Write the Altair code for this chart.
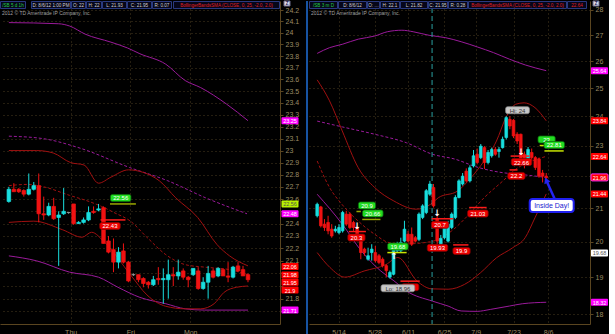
import altair as alt
import pandas as pd

FONT = "Liberation Sans"
NARROW = "Liberation Sans Narrow, Liberation Sans"

# ======================= DATA =======================
# ---- Left panel: /SB hourly candles ----
left_open = [22.58, 22.68, 22.68, 22.67, 22.64, 22.68, 22.71, 22.48, 22.47, 22.54,
             22.45, 22.48, 22.49, 22.56, 22.40, 22.41, 22.43, 22.50, 22.51, 22.53,
             22.26, 22.19, 22.09, 22.18, 22.09, 21.99, 21.99, 21.96, 21.93, 21.91,
             21.96, 21.95, 21.95, 21.99, 21.98, 22.02, 21.97, 21.99, 22.02, 21.88,
             21.93, 22.02, 21.98, 22.03, 21.98, 21.97, 22.06, 22.03, 21.99]
left_high = [22.70, 22.73, 22.69, 22.68, 22.81, 22.74, 22.81, 22.62, 22.57, 22.61,
             22.50, 22.69, 22.49, 22.56, 22.42, 22.45, 22.54, 22.54, 22.56, 22.54,
             22.30, 22.28, 22.21, 22.24, 22.10, 22.00, 21.99, 21.97, 21.94, 21.98,
             22.05, 22.04, 22.11, 22.05, 22.11, 22.04, 21.98, 22.04, 22.05, 21.97,
             22.06, 22.04, 22.05, 22.04, 22.09, 22.06, 22.09, 22.06, 22.00]
left_low = [22.57, 22.66, 22.65, 22.62, 22.63, 22.67, 22.41, 22.43, 22.46, 22.43,
            22.06, 22.47, 22.48, 22.39, 22.40, 22.40, 22.42, 22.48, 22.50, 22.24,
            22.16, 22.01, 22.04, 22.08, 21.93, 21.98, 21.93, 21.89, 21.88, 21.90,
            21.91, 21.76, 21.80, 21.90, 21.95, 21.95, 21.89, 21.98, 21.87, 21.87,
            21.80, 21.96, 21.97, 21.98, 21.93, 21.96, 22.01, 21.98, 21.93]
left_close = [22.68, 22.66, 22.66, 22.64, 22.68, 22.71, 22.48, 22.47, 22.54, 22.44,
              22.47, 22.50, 22.49, 22.40, 22.41, 22.43, 22.49, 22.49, 22.52, 22.24,
              22.17, 22.09, 22.17, 22.09, 21.94, 21.99, 21.95, 21.92, 21.91, 21.95,
              21.95, 21.96, 21.99, 21.98, 22.01, 21.97, 21.95, 22.04, 21.88, 21.93,
              22.00, 21.97, 22.04, 21.98, 21.97, 22.05, 22.02, 21.98, 21.95]

left_bb_up_i = [0, 5.6, 8.9, 12.4, 15.1, 18.0, 20.5, 24.0, 26.9, 30.2, 33.5, 37.9, 41.8, 44.3, 48]
left_bb_up_v = [23.00, 23.00, 22.98, 22.90, 22.88, 22.73, 22.78, 22.84, 22.82, 22.75, 22.61, 22.45, 22.23, 22.14, 22.06]
left_bb_mid_i = [0, 3.7, 7.0, 12.2, 16.1, 18.6, 21.1, 24.4, 27.7, 31.5, 35.4, 39.3, 44.3, 48]
left_bb_mid_v = [22.71, 22.72, 22.70, 22.63, 22.58, 22.54, 22.49, 22.42, 22.29, 22.15, 22.07, 22.05, 22.03, 21.99]
left_bb_lo_i = [0, 5.0, 10.8, 14.7, 16.6, 19.2, 24.4, 27.7, 31.5, 35.4, 38.5, 41.2, 43.2, 45.7, 48]
left_bb_lo_v = [22.41, 22.42, 22.35, 22.29, 22.33, 22.25, 21.99, 21.83, 21.74, 21.72, 21.72, 21.76, 21.85, 21.89, 21.90]
left_env_up_i = [0, 10, 12.2, 15.3, 20.5, 23.8, 26.3, 31.5, 35.4, 38.5, 43.7, 48]
left_env_up_v = [24.09, 24.08, 24.06, 23.99, 23.92, 23.87, 23.82, 23.73, 23.59, 23.53, 23.39, 23.25]
left_env_mid_i = [0, 6.8, 14.3, 24.2, 31.9, 39.5, 47.8]
left_env_mid_v = [23.12, 23.10, 23.02, 22.86, 22.75, 22.61, 22.48]
left_env_lo_i = [0, 5.6, 12.2, 18.0, 21.9, 26.3, 31.5, 35.4, 39.3, 48]
left_env_lo_v = [22.14, 22.10, 22.01, 21.97, 21.89, 21.81, 21.76, 21.72, 21.71, 21.71]

left_ticks = [21.7, 21.8, 21.9, 22.0, 22.1, 22.2, 22.3, 22.4, 22.5, 22.6, 22.7, 22.8, 22.9,
              23.0, 23.1, 23.2, 23.3, 23.4, 23.5, 23.6, 23.7, 23.8, 23.9, 24.0, 24.1, 24.2]
left_ticks_hidden = [21.7, 21.9, 22.0, 22.5]   # covered by the price tags in the reference
left_days = ["Thu", "Fri", "Mon"]
left_day_pos = [12.4, 24.4, 36.4]

left_axis_tag_text = ["23.25", "22.56", "22.48", "22.06", "21.98", "21.95", "21.9", "21.71"]
left_axis_tag_val = [23.25, 22.56, 22.48, 22.06, 21.98, 21.95, 21.90, 21.71]
left_axis_tag_kind = ["mag", "lime", "mag", "red", "red", "red", "red", "mag"]
left_axis_tag_nudge = [0, 0, 0, 0.5, -1, 2.5, 4, 0]   # stacking of crowded tags (px)

left_sig_from = [20.3, 18.4]
left_sig_to = [25.5, 23.4]
left_sig_val = [22.56, 22.43]
left_sig_kind = ["olive", "red"]

left_tag_text = ["22.56", "22.43"]
left_tag_i = [22.45, 20.3]
left_tag_v = [22.56, 22.43]
left_tag_kind = ["green", "red"]
left_tag_side = [-1, 1]

left_header = ["/SB 5 d 1h", "D: 8/6/12 1:00 PM", "O: 22", "H: 22", "L: 21.93",
               "C: 21.95", "R: 0.07", "BollingerBandsSMA (CLOSE, 0, 25, -2.0, 2.0)"]

# ---- Right panel: /SB daily candles (3 months) ----
right_open = [20.77, 21.04, 20.52, 20.57, 20.37, 20.32, 20.27, 20.32, 20.82, 20.82,
              20.57, 20.42, 20.07, 19.79, 19.50, 19.69, 19.69, 19.60, 19.50, 19.32,
              19.00, 19.08, 19.74, 19.74, 20.02, 20.22, 20.22, 20.12, 20.07, 20.72,
              20.87, 21.43, 21.64, 20.67, 19.90, 20.12, 20.02, 20.42, 20.72, 21.33,
              21.75, 22.16, 21.85, 22.33, 22.71, 22.60, 22.93, 22.44, 22.66, 22.87,
              22.80, 22.93, 23.27, 23.89, 23.86, 23.38, 23.38, 22.71, 22.55, 22.77,
              22.60, 22.55, 22.10, 22.00]
right_high = [21.17, 21.07, 20.67, 20.77, 20.52, 20.47, 20.52, 20.92, 20.92, 20.87,
              20.62, 20.47, 20.17, 19.83, 19.83, 19.93, 19.88, 19.65, 19.55, 19.36,
              19.18, 19.88, 20.00, 20.12, 20.62, 20.32, 20.42, 20.17, 20.87, 21.12,
              21.59, 21.85, 21.75, 20.80, 20.20, 20.52, 20.62, 20.87, 21.40, 21.90,
              22.10, 22.25, 22.35, 22.85, 22.90, 23.05, 22.98, 22.85, 22.93, 22.95,
              22.95, 23.30, 24.00, 24.00, 23.90, 23.45, 23.40, 22.80, 22.95, 22.90,
              22.65, 22.60, 22.20, 22.10]
right_low = [20.72, 20.42, 20.32, 20.22, 20.12, 20.27, 20.22, 20.27, 20.47, 20.37,
             20.32, 20.02, 19.50, 19.60, 19.46, 19.46, 19.41, 19.36, 19.27, 19.00,
             18.96, 19.05, 19.70, 19.69, 19.98, 19.98, 19.88, 19.98, 20.02, 20.67,
             20.82, 21.38, 21.02, 19.74, 19.85, 20.07, 19.98, 20.37, 20.67, 21.30,
             21.70, 21.80, 21.80, 22.28, 22.38, 22.55, 22.23, 22.38, 22.60, 22.66,
             22.60, 22.90, 23.20, 23.55, 23.25, 23.05, 22.50, 22.25, 22.45, 22.50,
             22.20, 21.95, 21.80, 21.82]
right_close = [21.12, 20.47, 20.42, 20.32, 20.17, 20.37, 20.42, 20.87, 20.52, 20.42,
               20.42, 20.12, 19.69, 19.69, 19.60, 19.79, 19.46, 19.41, 19.32, 19.18,
               19.13, 19.83, 19.93, 19.98, 20.37, 20.02, 19.93, 20.02, 20.82, 21.07,
               21.54, 21.75, 21.07, 20.02, 20.10, 20.42, 20.52, 20.82, 21.33, 21.85,
               22.00, 21.85, 22.27, 22.66, 22.44, 22.98, 22.44, 22.77, 22.87, 22.71,
               22.87, 23.21, 23.95, 23.66, 23.32, 23.15, 22.55, 22.50, 22.87, 22.60,
               22.28, 22.00, 22.00, 21.95]

right_bb_up_i = [0, 3.4, 6.9, 11.3, 15.8, 21.1, 27.2, 31.2, 33.3, 38.6, 42.3, 45.9, 49.3, 51.9, 54.6, 56.9, 59.9, 63]
right_bb_up_v = [25.30, 24.54, 23.49, 22.27, 21.64, 21.22, 20.97, 21.12, 21.32, 21.53, 21.95, 22.49, 23.15, 23.95, 24.42, 24.47, 24.30, 23.84]
right_bb_mid_i = [0, 3.4, 6.8, 11.3, 15.8, 20.1, 24.6, 29.0, 33.3, 37.0, 41.3, 45.9, 51.1, 54.6, 59.1, 63]
right_bb_mid_v = [22.49, 21.64, 21.12, 20.61, 20.22, 19.97, 19.94, 19.97, 20.07, 20.32, 20.76, 21.32, 21.85, 22.22, 22.49, 22.64]
right_bb_lo_i = [0, 3.5, 7.6, 12.9, 18.9, 22.2, 27.4, 31.5, 36.0, 40.5, 44.9, 49.3, 53.8, 57.2, 59.9, 63]
right_bb_lo_v = [19.69, 19.27, 19.00, 19.17, 19.35, 19.55, 18.90, 18.68, 18.67, 18.80, 19.12, 19.54, 19.83, 20.12, 20.71, 21.44]
right_env_up_i = [0, 3.4, 6.9, 11.3, 15.8, 19.3, 23.3, 26.4, 30.8, 35.2, 39.6, 44.0, 48.5, 52.9, 57.3, 63]
right_env_up_v = [26.29, 26.51, 26.64, 26.84, 26.96, 27.13, 27.19, 27.13, 26.99, 26.90, 26.74, 26.54, 26.32, 26.07, 25.85, 25.64]
right_env_mid_i = [0, 6.9, 15.8, 24.6, 31.7, 37.9, 44.0, 51.1, 55.5, 63]
right_env_mid_v = [23.83, 23.63, 23.38, 23.09, 22.71, 22.55, 22.29, 22.11, 22.06, 21.96]
right_env_lo_i = [0, 6.9, 12.2, 17.5, 21.1, 24.6, 31.7, 36.0, 39.6, 44.0, 47.6, 52.9, 56.4, 63]
right_env_lo_v = [21.43, 20.52, 19.73, 19.17, 18.90, 18.62, 18.35, 18.22, 18.09, 18.08, 18.13, 18.22, 18.28, 18.32]

right_ticks = [18, 19, 20, 21, 22, 23, 24, 25, 26, 27, 28]
right_ticks_hidden = [22]
right_dates = ["5/14", "5/28", "6/11", "6/25", "7/9", "7/23", "8/6"]
right_date_pos = [5.9, 15.8, 25.0, 34.9, 43.6, 54.0, 63.5]
right_marker_pos = 31.6

right_axis_tag_text = ["25.64", "23.84", "22.64", "21.96", "21.44", "19.68", "18.32"]
right_axis_tag_val = [25.64, 23.84, 22.64, 21.96, 21.44, 19.68, 18.32]
right_axis_tag_kind = ["mag", "red", "red", "redmag", "red", "white", "mag"]

right_sig_from = [10.8, 12.4, 8.7, 19.3, 22.9, 31.5, 37.4, 41.8, 53.2, 52.9, 61.2, 62.5]
right_sig_to = [12.0, 17.4, 13.4, 24.6, 28.2, 37.4, 41.6, 46.6, 58.3, 55.1, 62.5, 67.8]
right_sig_val = [20.90, 20.66, 20.30, 19.69, 18.89, 20.68, 19.91, 21.02, 22.65, 22.20, 23.00, 22.82]
right_sig_kind = ["olive", "olive", "red", "lime", "red", "red", "red", "red", "red", "red", "lime", "lime"]

right_tag_text = ["20.9", "20.66", "20.3", "19.68", "", "Lo: 18.96", "20.7", "19.93",
                  "19.9", "21.03", "Hi: 24", "22.66", "22.2", "23", "22.81"]
right_tag_i = [13.7, 15.3, 10.8, 22.2, 25.6, 22.2, 33.8, 33.1, 39.7, 44.2, 55.1, 56.2, 54.8, 63.1, 65.2]
right_tag_v = [20.90, 20.66, 20.30, 19.69, 18.89, 18.96, 20.68, 19.93, 19.91, 21.02, 24.00, 22.65, 22.20, 23.00, 22.82]
right_tag_kind = ["green", "green", "red", "green", "red", "gray", "red", "red",
                  "red", "red", "gray", "red", "red", "green", "green"]
right_tag_side = [-1, -1, 1, -1, 1, 1.6, 1, 0.6, 1, 1, -1, 1, 1, -1, -1]

right_arrow_i = [11.0, 21.1, 33.0, 56.1]
right_arrow_v = [20.47, 19.59, 20.85, 22.80]
right_arrow_sym = ["↓", "↑", "↓", "↓"]

inside_text = "Inside Day!"
inside_i, inside_v = 64.5, 21.08
inside_arrow = {"i0": 65.3, "v0": 21.29, "i1": 63.0, "v1": 21.87}

right_header = ["/SB 3 m D", "D: 8/6/12", "O: 22", "H: 22.1", "L: 21.82", "C: 21.95",
                "R: 0.28", "BollingerBandsSMA (CLOSE, 0, 25, -2.0, 2.0)", "22.64"]

# ======================= STYLE / LAYOUT =======================
UP, DOWN, FLAT = "#19dede", "#f01212", "#9a9a9a"
BB_RED = "#a01010"
PURPLE = "#9a1a9a"
GRID = "#4a3c20"
AXIS_TXT = "#9c8b64"
AXIS_LINE = "#5a4520"
SIG = {"red": "#ff1a1a", "olive": "#9aa800", "lime": "#c8e400"}
TAG = {"green": ("#22dd22", "#ffffff", "#0a6a0a"), "red": ("#ee0000", "#ffffff", "#880000"),
       "gray": ("#c8c8c8", "#333333", "#888888")}
AXTAG = {"mag": ("#ff00ff", "#ffffff", None), "lime": ("#b8f000", "#505050", None),
         "red": ("#ff0000", "#ffffff", None), "redmag": ("#ff0000", "#ffffff", "#ff33ff"),
         "white": ("#ffffff", "#555555", None)}

LW, RW, H = 280, 281, 323
left_x = alt.Scale(domain=[-0.774, 53.42], nice=False, zero=False)
left_y = alt.Scale(type="log", domain=[21.601, 24.279], nice=False)
right_x = alt.Scale(domain=[-0.875, 73.66], nice=False, zero=False)
right_y = alt.Scale(type="log", domain=[17.751, 28.368], nice=False)

left_header_box = [(0, 26), (31, 71), (71, 86), (86, 102), (102, 127), (127, 152), (152, 172), (173, 280)]
right_header_box = [(0, 29), (29, 58), (58, 71), (71, 91), (91, 119), (119, 139), (139, 159), (159, 258), (258, 278)]


def yaxis(values, hidden, fmt):
    expr = "indexof(%s, datum.value) >= 0 ? '' : format(datum.value, '%s')" % (str(hidden), fmt)
    return alt.Axis(orient="right", values=values, labelExpr=expr, title=None, labelFont=FONT,
                    labelFontSize=7, labelColor=AXIS_TXT, tickColor=AXIS_LINE, tickSize=3,
                    domainColor=AXIS_LINE, labelPadding=2, labelOverlap=False, grid=True,
                    gridColor=GRID, gridDash=[1, 3], gridWidth=1, zindex=0)


def xaxis(values, names):
    expr = "%s[indexof(%s, datum.value)]" % (str(names), str(values))
    return alt.Axis(values=values, labelExpr=expr, title=None, labelFont=FONT, labelFontSize=7,
                    labelColor=AXIS_TXT, tickSize=0, domainColor=AXIS_LINE, labelPadding=4,
                    labelOverlap=False, grid=True, gridColor=GRID, gridDash=[1, 3], zindex=0)


LEFT_AX = (xaxis(left_day_pos, left_days), yaxis(left_ticks, left_ticks_hidden, ".1~f"))
RIGHT_AX = (xaxis(right_date_pos, right_dates), yaxis(right_ticks, right_ticks_hidden, "d"))


def X(field, xs, ax):
    return alt.X(field, scale=xs, axis=ax[0])


def Y(field, ys, ax):
    return alt.Y(field, scale=ys, axis=ax[1])


def band(ii, vv, color, xs, ys, ax, dash=None, width=1.0):
    df = pd.DataFrame({"i": ii, "v": vv})
    kw = dict(color=color, strokeWidth=width, interpolate="monotone")
    if dash:
        kw["strokeDash"] = dash
    return alt.Chart(df).mark_line(**kw).encode(x=X("i:Q", xs, ax), y=Y("v:Q", ys, ax))


def candles(o, h, l, c, xs, ys, ax, body):
    df = pd.DataFrame({"i": list(range(len(o))), "o": o, "h": h, "l": l, "c": c})
    df["d"] = ["up" if cc > oo else ("down" if cc < oo else "flat") for oo, cc in zip(o, c)]
    cs = alt.Scale(domain=["up", "down", "flat"], range=[UP, DOWN, FLAT])
    base = alt.Chart(df)
    wick = base.mark_rule(strokeWidth=1).encode(
        x=X("i:Q", xs, ax), y=Y("l:Q", ys, ax), y2=alt.Y2("h"),
        color=alt.Color("d:N", scale=cs, legend=None))
    bod = base.mark_bar(size=body, strokeWidth=0.7).encode(
        x=X("i:Q", xs, ax), y=Y("o:Q", ys, ax), y2=alt.Y2("c"),
        color=alt.Color("d:N", scale=cs, legend=None), stroke=alt.Stroke("d:N", scale=cs, legend=None))
    return [wick, bod]


def signal(i0, i1, v, kind, xs, ys, ax):
    d = alt.Data(values=[{"i": i0, "b": i1, "v": v}])
    return alt.Chart(d).mark_rule(color=SIG[kind], strokeWidth=1.5).encode(
        x=X("i:Q", xs, ax), x2=alt.X2("b"), y=Y("v:Q", ys, ax))


def tag(text, i, v, kind, side, xs, ys, ax, h=7, size=6):
    fill, color, stroke = TAG[kind]
    w = 3.3 * max(len(text), 4) + 4
    dy = 6 * side
    d = alt.Data(values=[{"i": i, "v": v, "t": text}])
    r = alt.Chart(d).mark_rect(fill=fill, stroke=stroke, strokeWidth=0.8, cornerRadius=2,
                               xOffset=-w / 2, x2Offset=w / 2, yOffset=dy - h / 2, y2Offset=dy + h / 2).encode(
        x=X("i:Q", xs, ax), x2=alt.X2("i"), y=Y("v:Q", ys, ax), y2=alt.Y2("v"))
    if not text:
        return [r]
    t = alt.Chart(d).mark_text(font=FONT, fontSize=size, color=color, dy=dy + 0.5, align="center",
                               baseline="middle").encode(
        x=X("i:Q", xs, ax), y=Y("v:Q", ys, ax), text="t:N")
    return [r, t]


def axis_tag(text, v, kind, x0, x1, ys, ax, nudge=0, h=7):
    fill, color, stroke = AXTAG[kind]
    d = alt.Data(values=[{"v": v, "t": text}])
    kw = dict(fill=fill, yOffset=nudge - h / 2, y2Offset=nudge + h / 2, cornerRadius=1)
    if stroke:
        kw.update(stroke=stroke, strokeWidth=1)
    r = alt.Chart(d).mark_rect(**kw).encode(
        x=alt.value(x0), x2=alt.value(x1), y=Y("v:Q", ys, ax), y2=alt.Y2("v"))
    t = alt.Chart(d).mark_text(font=FONT, fontSize=5.5, color=color, align="center", baseline="middle",
                               dy=nudge + 0.5).encode(
        x=alt.value((x0 + x1) / 2), y=Y("v:Q", ys, ax), text="t:N")
    return [r, t]


def pixel_box(text, x0, x1, y0, y1, fill, stroke, color, size, weight="normal", font=FONT):
    d = alt.Data(values=[{"t": text}])
    kw = dict(fill=fill)
    if stroke:
        kw.update(stroke=stroke, strokeWidth=1)
    r = alt.Chart(d).mark_rect(**kw).encode(
        x=alt.value(x0), x2=alt.value(x1), y=alt.value(y0), y2=alt.value(y1))
    t = alt.Chart(d).mark_text(font=font, fontSize=size, color=color, align="center", baseline="middle",
                               fontWeight=weight, limit=max(x1 - x0 - 1, 4)).encode(
        text="t:N", x=alt.value((x0 + x1) / 2), y=alt.value((y0 + y1) / 2 + 0.5))
    return [r, t]


def header(texts, boxes, width, first_color, bb_color):
    layers = []
    d0 = alt.Data(values=[{"t": ""}])
    layers.append(alt.Chart(d0).mark_rect(fill="#000000").encode(
        x=alt.value(0), x2=alt.value(width), y=alt.value(0), y2=alt.value(7.5)))
    for k, (txt, (a, b)) in enumerate(zip(texts, boxes)):
        color = "#cfcfcf"
        if k == 0:
            color = first_color
        elif txt.startswith("Bollinger") or (k == len(texts) - 1 and txt[0].isdigit()):
            color = bb_color
        layers += pixel_box(txt, a + 0.5, b - 0.5, 0.5, 7.5, "#06061a", "#2a3a80", color, 4.6,
                            font=NARROW)
    return layers


def copyright_text():
    d = alt.Data(values=[{"t": "2012 © TD Ameritrade IP Company, Inc."}])
    return alt.Chart(d).mark_text(font=FONT, fontSize=5, color="#a0a0a0", align="left",
                                  baseline="middle").encode(text="t:N", x=alt.value(2), y=alt.value(12))


# ======================= LEFT PANEL =======================
ax = LEFT_AX
L = []
L.append(band(left_env_up_i, left_env_up_v, PURPLE, left_x, left_y, ax))
L.append(band(left_env_mid_i, left_env_mid_v, PURPLE, left_x, left_y, ax, dash=[3, 2]))
L.append(band(left_env_lo_i, left_env_lo_v, PURPLE, left_x, left_y, ax))
L.append(band(left_bb_up_i, left_bb_up_v, BB_RED, left_x, left_y, ax))
L.append(band(left_bb_mid_i, left_bb_mid_v, BB_RED, left_x, left_y, ax, dash=[3, 2]))
L.append(band(left_bb_lo_i, left_bb_lo_v, BB_RED, left_x, left_y, ax))
L += candles(left_open, left_high, left_low, left_close, left_x, left_y, ax, 3.6)
for a, b, v, k in zip(left_sig_from, left_sig_to, left_sig_val, left_sig_kind):
    L.append(signal(a, b, v, k, left_x, left_y, ax))
for t, i, v, k, s in zip(left_tag_text, left_tag_i, left_tag_v, left_tag_kind, left_tag_side):
    L += tag(t, i, v, k, s, left_x, left_y, ax)
for t, v, k, n in zip(left_axis_tag_text, left_axis_tag_val, left_axis_tag_kind, left_axis_tag_nudge):
    L += axis_tag(t, v, k, 281.5, 298.5, left_y, ax, nudge=n)
L += header(left_header, left_header_box, LW, "#22cc44", "#e02020")
L += pixel_box("Z", 284, 290, 0, 5, "#d8d8e8", "#6a6a8a", "#202050", 4.5, "bold")
L.append(copyright_text())
left_chart = alt.layer(*L).properties(width=LW, height=H)

# ======================= RIGHT PANEL =======================
ax = RIGHT_AX
R = []
R.append(band(right_env_up_i, right_env_up_v, PURPLE, right_x, right_y, ax))
R.append(band(right_env_mid_i, right_env_mid_v, PURPLE, right_x, right_y, ax, dash=[3, 2]))
R.append(band(right_env_lo_i, right_env_lo_v, PURPLE, right_x, right_y, ax))
R.append(band(right_bb_up_i, right_bb_up_v, BB_RED, right_x, right_y, ax))
R.append(band(right_bb_mid_i, right_bb_mid_v, BB_RED, right_x, right_y, ax, dash=[3, 2]))
R.append(band(right_bb_lo_i, right_bb_lo_v, BB_RED, right_x, right_y, ax))
R.append(alt.Chart(alt.Data(values=[{"i": right_marker_pos}])).mark_rule(
    color="#2aa0a0", strokeWidth=1, strokeDash=[5, 3]).encode(
    x=X("i:Q", right_x, ax), y=alt.value(7), y2=alt.value(H)))
R += candles(right_open, right_high, right_low, right_close, right_x, right_y, ax, 2.7)
for a, b, v, k in zip(right_sig_from, right_sig_to, right_sig_val, right_sig_kind):
    R.append(signal(a, b, v, k, right_x, right_y, ax))
for t, i, v, k, s in zip(right_tag_text, right_tag_i, right_tag_v, right_tag_kind, right_tag_side):
    R += tag(t, i, v, k, s, right_x, right_y, ax)
arrows = pd.DataFrame({"i": right_arrow_i, "v": right_arrow_v, "s": right_arrow_sym})
R.append(alt.Chart(arrows).mark_text(font="DejaVu Sans", fontSize=9, fontWeight="bold", color="#ffffff",
                                     baseline="middle").encode(
    x=X("i:Q", right_x, ax), y=Y("v:Q", right_y, ax), text="s:N"))
# Inside day annotation
ad = alt.Data(values=[{"i": inside_arrow["i0"], "b": inside_arrow["i1"],
                       "v": inside_arrow["v0"], "w": inside_arrow["v1"]}])
R.append(alt.Chart(ad).mark_rule(color="#2424ee", strokeWidth=2.5).encode(
    x=X("i:Q", right_x, ax), x2=alt.X2("b"), y=Y("v:Q", right_y, ax), y2=alt.Y2("w")))
R.append(alt.Chart(ad).mark_point(shape="triangle-up", filled=True, color="#2424ee", size=45,
                                  angle=336, opacity=1).encode(
    x=X("b:Q", right_x, ax), y=Y("w:Q", right_y, ax)))
idd = alt.Data(values=[{"i": inside_i, "v": inside_v, "t": inside_text}])
R.append(alt.Chart(idd).mark_rect(fill="#ffffff", stroke="#2020f0", strokeWidth=2, cornerRadius=3,
                                  xOffset=-22, x2Offset=22, yOffset=-6.5, y2Offset=6.5).encode(
    x=X("i:Q", right_x, ax), x2=alt.X2("i"), y=Y("v:Q", right_y, ax), y2=alt.Y2("v")))
R.append(alt.Chart(idd).mark_text(font=FONT, fontSize=7, color="#2020d0", align="center",
                                  baseline="middle", dy=0.5).encode(
    x=X("i:Q", right_x, ax), y=Y("v:Q", right_y, ax), text="t:N"))
for t, v, k in zip(right_axis_tag_text, right_axis_tag_val, right_axis_tag_kind):
    R += axis_tag(t, v, k, 282, 299, right_y, ax)
R += header(right_header, right_header_box, RW, "#22cc44", "#e02020")
R += pixel_box("Z", 284, 290, 0, 5, "#d8d8e8", "#6a6a8a", "#202050", 4.5, "bold")
R.append(copyright_text())
R.append(alt.Chart(alt.Data(values=[{"a": 0}])).mark_rule(color="#1f6fd8", strokeWidth=1.5).encode(
    x=alt.value(-2), y=alt.value(0), y2=alt.value(334)))
right_chart = alt.layer(*R).properties(width=RW, height=H)

chart = alt.hconcat(left_chart, right_chart, spacing=29, bounds="flush").configure(
    background="#000000", padding=0
).configure_view(stroke=None)

chart.save("out.html", embed_options={"renderer": "svg", "actions": False})
